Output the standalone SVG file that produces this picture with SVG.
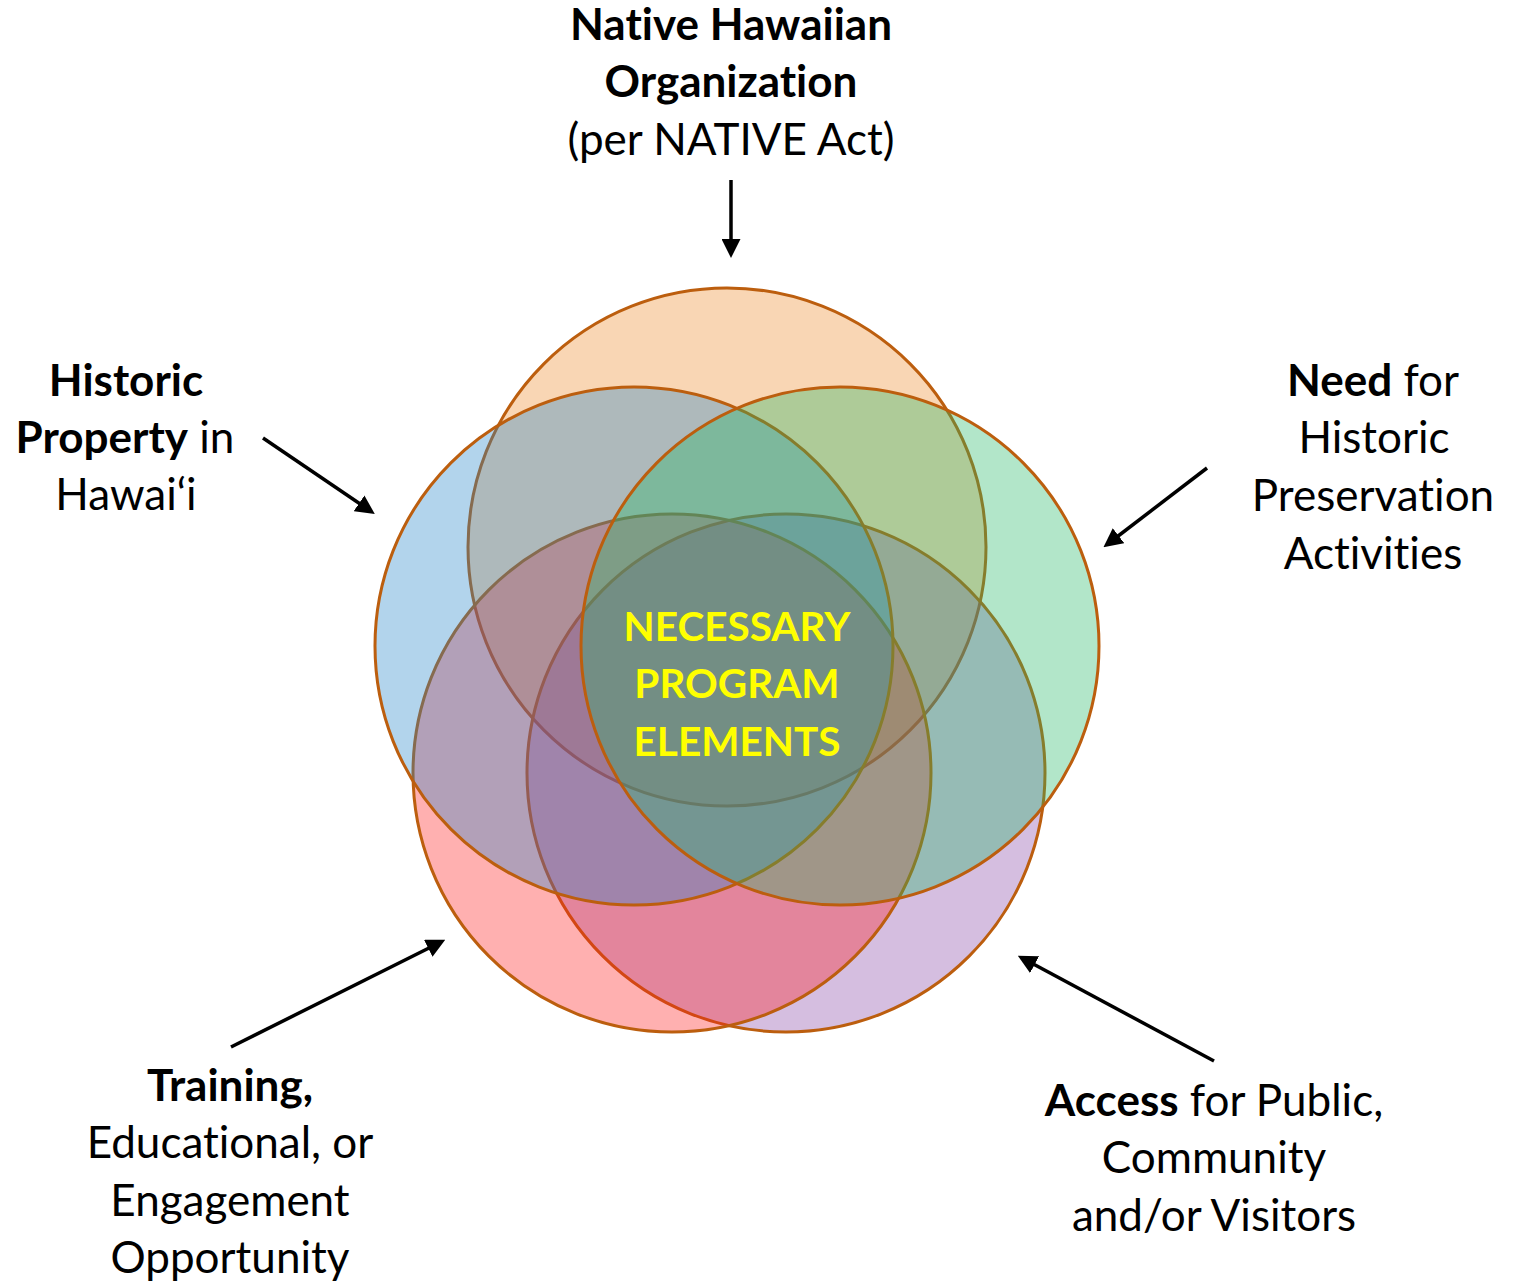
<svg xmlns="http://www.w3.org/2000/svg" width="1526" height="1284" viewBox="0 0 1526 1284">
<style>
.c{stroke:#BC5E0E;stroke-width:3}
.t{font-family:Lato,"Liberation Sans",sans-serif;font-size:44px;fill:#000;text-anchor:middle;font-variant-ligatures:none}
.b{font-weight:bold}
.y{font-family:Lato,"Liberation Sans",sans-serif;font-size:40.5px;font-weight:bold;fill:#FFFF00;text-anchor:middle;font-variant-ligatures:none}
.a{stroke:#000;stroke-width:3.5;fill:none;marker-end:url(#ah)}
</style>
<defs>
<marker id="ah" viewBox="0 0 19 19" refX="12" refY="9.5" markerWidth="19" markerHeight="19" markerUnits="userSpaceOnUse" orient="auto">
<path d="M0,0 L19,9.5 L0,19 z" fill="#000"/>
</marker>
</defs>
<rect width="1526" height="1284" fill="#fff"/>
<g id="venn">
<g id="c-orange"><circle class="c" cx="727" cy="547" r="259" fill="rgb(238,138,41)" fill-opacity="0.35"/></g>
<g id="c-purple"><circle class="c" cx="786" cy="773" r="259" fill="rgb(135,69,166)" fill-opacity="0.35"/></g>
<g id="c-red"><circle class="c" cx="672" cy="773" r="259" fill="rgb(255,29,29)" fill-opacity="0.35"/></g>
<g id="c-blue"><circle class="c" cx="634" cy="646" r="259" fill="rgb(35,132,201)" fill-opacity="0.35"/></g>
<g id="c-green"><circle class="c" cx="840" cy="646" r="259" fill="rgb(35,184,101)" fill-opacity="0.35"/></g>
</g>
<g id="center-label">
<text class="y" x="737" y="641">NECESSARY</text>
<text class="y" x="737" y="698">PROGRAM</text>
<text class="y" x="737" y="756">ELEMENTS</text>
</g>
<g id="n-top">
<text class="t b" x="731" y="40">Native Hawaiian</text>
<text class="t b" x="731" y="97">Organization</text>
<text class="t" x="731" y="155">(per NATIVE Act)</text>
</g>
<g id="n-left">
<text class="t b" x="126" y="396">Historic</text>
<text class="t" x="125" y="453"><tspan class="b">Property</tspan> in</text>
<text class="t" x="126" y="510">Hawai‘i</text>
</g>
<g id="n-right">
<text class="t" x="1373" y="396"><tspan class="b">Need</tspan> for</text>
<text class="t" x="1374" y="453">Historic</text>
<text class="t" x="1373" y="511">Preservation</text>
<text class="t" x="1373" y="569">Activities</text>
</g>
<g id="n-bottom-left">
<text class="t b" x="230" y="1101">Training,</text>
<text class="t" x="230" y="1158">Educational, or</text>
<text class="t" x="230" y="1216">Engagement</text>
<text class="t" x="230" y="1273">Opportunity</text>
</g>
<g id="n-bottom-right">
<text class="t" x="1214" y="1116"><tspan class="b">Access</tspan> for Public,</text>
<text class="t" x="1214" y="1173">Community</text>
<text class="t" x="1214" y="1231">and/or Visitors</text>
</g>
<g id="connectors">
<line class="a" x1="731" y1="180" x2="731" y2="251"/>
<line class="a" x1="263" y1="438" x2="369" y2="510"/>
<line class="a" x1="1207" y1="468" x2="1109" y2="543"/>
<line class="a" x1="231" y1="1047" x2="439" y2="943"/>
<line class="a" x1="1214" y1="1061" x2="1024" y2="959"/>
</g>
</svg>
